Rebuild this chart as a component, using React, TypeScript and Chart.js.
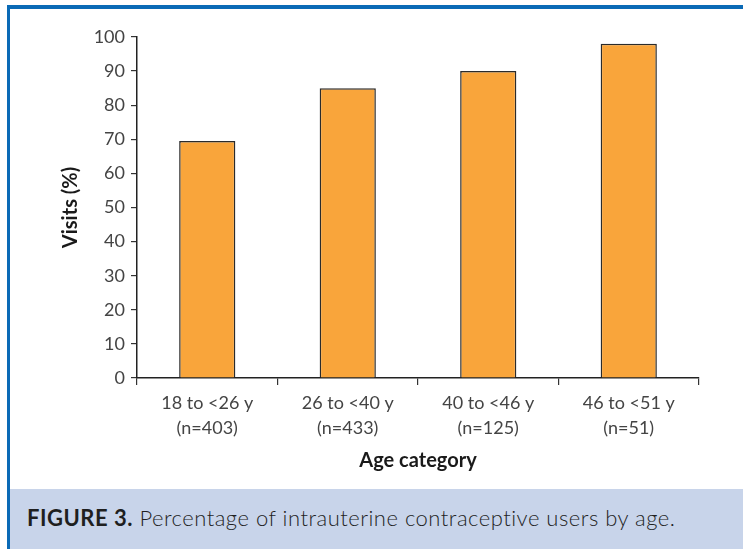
import React, { useEffect, useRef } from "react";
import { Chart, registerables } from "chart.js";

Chart.register(...registerables);

const categories: string[][] = [
  ["18 to <26 y", "(n=403)"],
  ["26 to <40 y", "(n=433)"],
  ["40 to <46 y", "(n=125)"],
  ["46 to <51 y", "(n=51)"],
];
const visits: number[] = [69.5, 85, 90, 98];
const yMin = 0;
const yMax = 100;
const yStep = 10;
const yTitle = "Visits (%)";
const xTitle = "Age category";
const captionLead = "FIGURE 3.";
const captionText = " Percentage of intrauterine contraceptive users by age.";

const FONT = "Lato, 'Open Sans', sans-serif";

export default function App() {
  const ref = useRef<HTMLCanvasElement | null>(null);

  useEffect(() => {
    if (!ref.current) return;
    const chart = new Chart(ref.current, {
      type: "bar",
      data: {
        labels: categories,
        datasets: [
          {
            data: visits,
            backgroundColor: "#f9a53b",
            borderColor: "#2b2b2b",
            borderWidth: 1.5,
            categoryPercentage: 1,
            barPercentage: 0.4,
          },
        ],
      },
      options: {
        animation: false,
        responsive: false,
        maintainAspectRatio: false,
        layout: { padding: { top: 28, right: 44, left: 0, bottom: 0 } },
        plugins: { legend: { display: false }, tooltip: { enabled: false } },
        scales: {
          x: {
            offset: true,
            grid: {
              offset: true,
              drawOnChartArea: false,
              drawTicks: true,
              tickLength: 7,
              color: "#333",
              lineWidth: 1.2,
            },
            border: { display: true, color: "#222", width: 1.5 },
            ticks: {
              color: "#444",
              font: { family: FONT, size: 18, weight: "normal", lineHeight: 1.38 },
              padding: 6,
              maxRotation: 0,
              autoSkip: false,
            },
            title: {
              display: true,
              text: xTitle,
              color: "#1a1a1a",
              font: { family: FONT, size: 20, weight: "bold" },
              padding: { top: 0, bottom: 16 },
            },
            afterFit: (s: any) => {
              s.height = 111;
            },
          },
          y: {
            min: yMin,
            max: yMax,
            grid: {
              drawOnChartArea: false,
              drawTicks: true,
              tickLength: 6,
              color: "#333",
              lineWidth: 1.2,
            },
            border: { display: true, color: "#222", width: 1.5 },
            ticks: {
              stepSize: yStep,
              color: "#444",
              font: { family: FONT, size: 18, weight: "normal" },
              padding: 6,
            },
            title: {
              display: true,
              text: yTitle,
              color: "#1a1a1a",
              font: { family: FONT, size: 20, weight: "bold" },
              padding: { top: 49, bottom: 0 },
            },
            afterFit: (s: any) => {
              s.width = 127;
            },
          },
        },
      },
    });
    return () => chart.destroy();
  }, []);

  return (
    <div
      style={{
        position: "absolute",
        left: 0,
        top: 0,
        width: 743,
        height: 549,
        overflow: "hidden",
        background: "#fff",
      }}
    >
      <div style={{ position: "absolute", left: 7, top: 5, width: 736, height: 4, background: "#0a6ab6" }} />
      <div style={{ position: "absolute", left: 7, top: 5, width: 3, height: 544, background: "#0a6ab6" }} />
      <canvas
        ref={ref}
        width={733}
        height={480}
        style={{ position: "absolute", left: 10, top: 9, width: 733, height: 480 }}
      />
      <div
        style={{
          position: "absolute",
          left: 10,
          top: 489,
          width: 733,
          height: 60,
          background: "#c8d4ea",
        }}
      >
        <div
          style={{
            position: "absolute",
            left: 17,
            top: 15,
            fontFamily: FONT,
            fontSize: 22,
            letterSpacing: 0.5,
            color: "#1f1f1f",
            whiteSpace: "nowrap",
          }}
        >
          <span style={{ fontWeight: 700 }}>{captionLead}</span>
          <span style={{ fontWeight: 300 }}>{captionText}</span>
        </div>
      </div>
    </div>
  );
}
